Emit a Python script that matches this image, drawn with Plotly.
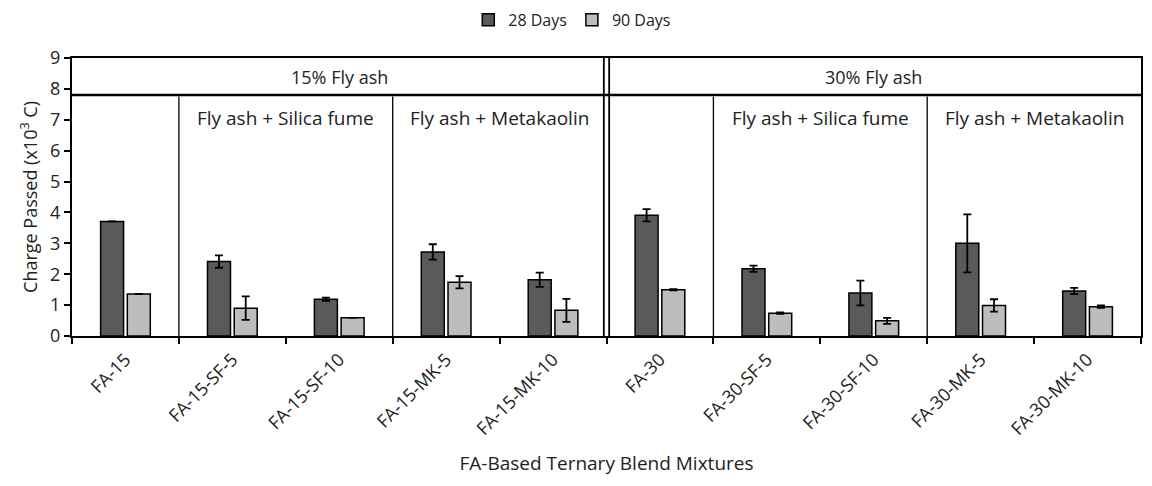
import plotly.graph_objects as go

# mixtures and charge passed (x10^3 C)
mixes = ["FA-15", "FA-15-SF-5", "FA-15-SF-10", "FA-15-MK-5", "FA-15-MK-10",
         "FA-30", "FA-30-SF-5", "FA-30-SF-10", "FA-30-MK-5", "FA-30-MK-10"]
days28 = [3.71, 2.41, 1.19, 2.72, 1.82, 3.91, 2.18, 1.39, 3.00, 1.46]
days28_err = [0.0, 0.20, 0.05, 0.25, 0.23, 0.20, 0.10, 0.40, 0.94, 0.10]
days90 = [1.36, 0.90, 0.59, 1.74, 0.83, 1.50, 0.74, 0.49, 0.99, 0.95]
days90_err = [0.0, 0.38, 0.0, 0.20, 0.37, 0.02, 0.02, 0.10, 0.20, 0.04]

font = "Open Sans"

fig = go.Figure()
fig.add_bar(x=mixes, y=days28, name="28 Days",
            marker=dict(color="#5a5a5a", line=dict(color="black", width=1.5)),
            error_y=dict(type="data", array=days28_err, color="black", thickness=1.8, width=4))
fig.add_bar(x=mixes, y=days90, name="90 Days",
            marker=dict(color="#bdbdbd", line=dict(color="black", width=1.5)),
            error_y=dict(type="data", array=days90_err, color="black", thickness=1.8, width=4))

# header band and group separators
fig.add_shape(type="line", x0=-0.5, x1=9.5, y0=7.8, y1=7.8, line=dict(color="black", width=2.5))
for xb in [0.5, 2.5, 5.5, 7.5]:
    fig.add_shape(type="line", x0=xb, x1=xb, y0=0, y1=7.75, line=dict(color="black", width=1.3))
for xb in [4.475, 4.525]:
    fig.add_shape(type="line", x0=xb, x1=xb, y0=0, y1=9, line=dict(color="black", width=1.8))

fig.add_annotation(x=2, y=8.4, text="15% Fly ash", showarrow=False, font=dict(size=18))
fig.add_annotation(x=7, y=8.4, text="30% Fly ash", showarrow=False, font=dict(size=18))
for xc, lbl in [(1.5, "Fly ash + Silica fume"), (3.5, "Fly ash + Metakaolin"),
                (6.5, "Fly ash + Silica fume"), (8.5, "Fly ash + Metakaolin")]:
    fig.add_annotation(x=xc, y=7.05, text=lbl, showarrow=False, font=dict(size=19))

# page body has an 8px margin, so the figure is sized to fit inside it
fig.update_layout(
    width=1136, height=470,
    margin=dict(l=64, r=3, t=50, b=142, autoexpand=False),
    plot_bgcolor="white", paper_bgcolor="white",
    font=dict(family=font, size=17, color="#222"),
    barmode="group", bargap=0.5, bargroupgap=0.14,
    legend=dict(orientation="h", x=0.468, xanchor="center", y=1.137, yanchor="middle",
                font=dict(size=16), itemwidth=30),
)
fig.update_xaxes(
    range=[-0.5, 9.5], tickson="boundaries", ticks="outside", ticklen=6, tickwidth=2,
    tickcolor="black", showline=True, linecolor="black", linewidth=2, mirror=True,
    tickangle=-45, tickfont=dict(size=18), ticklabelstandoff=4, automargin=False,
    title=dict(text="FA-Based Ternary Blend Mixtures", font=dict(size=19), standoff=18),
)
fig.update_yaxes(
    range=[0, 9], dtick=1, ticks="outside", ticklen=6, tickwidth=2, tickcolor="black",
    showline=True, linecolor="black", linewidth=2, mirror=True, showgrid=False,
    tickfont=dict(size=18), automargin=False,
    title=dict(text="Charge Passed (x10<sup>3</sup> C)", font=dict(size=18), standoff=8),
)

fig.write_html("out.html")
